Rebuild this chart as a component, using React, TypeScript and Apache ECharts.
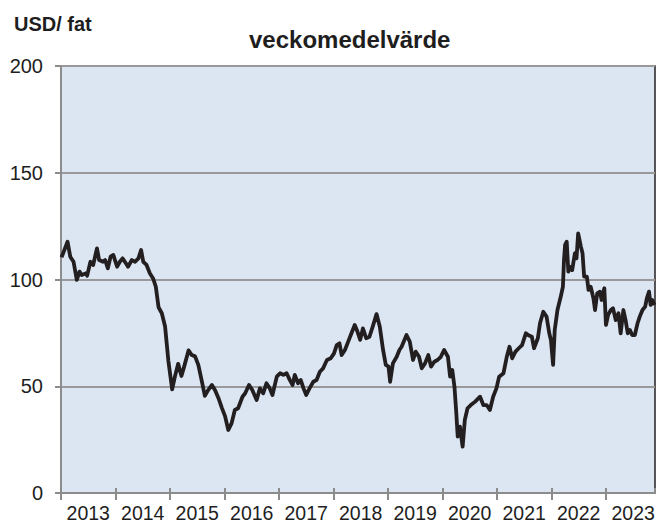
import React, { useEffect, useRef } from "react";
import * as echarts from "echarts";

const weekDates: number[] = [
  2013.01, 2013.12, 2013.17, 2013.23, 2013.29, 2013.34, 2013.38, 2013.46, 2013.48, 2013.54,
  2013.59, 2013.66, 2013.7, 2013.77, 2013.81, 2013.86, 2013.91, 2013.96, 2013.99, 2014.03,
  2014.08, 2014.13, 2014.19, 2014.23, 2014.3, 2014.36, 2014.42, 2014.47, 2014.51, 2014.57,
  2014.63, 2014.69, 2014.74, 2014.79, 2014.85, 2014.91, 2014.97, 2015.04, 2015.09, 2015.15,
  2015.21, 2015.26, 2015.34, 2015.4, 2015.46, 2015.52, 2015.58, 2015.64, 2015.7, 2015.77,
  2015.83, 2015.89, 2015.95, 2016.01, 2016.07, 2016.13, 2016.19, 2016.25, 2016.33, 2016.38,
  2016.45, 2016.51, 2016.59, 2016.65, 2016.71, 2016.77, 2016.83, 2016.88, 2016.96, 2017.02,
  2017.08, 2017.14, 2017.2, 2017.25, 2017.29, 2017.35, 2017.4, 2017.45, 2017.5, 2017.56,
  2017.63, 2017.69, 2017.75, 2017.81, 2017.88, 2017.95, 2018.01, 2018.06, 2018.11, 2018.15,
  2018.21, 2018.27, 2018.33, 2018.39, 2018.44, 2018.49, 2018.54, 2018.6, 2018.66, 2018.72,
  2018.79, 2018.85, 2018.91, 2018.96, 2019.01, 2019.04, 2019.09, 2019.16, 2019.21, 2019.25,
  2019.34, 2019.4, 2019.46, 2019.51, 2019.57, 2019.62, 2019.68, 2019.74, 2019.79, 2019.85,
  2019.91, 2019.97, 2020.03, 2020.1, 2020.14, 2020.18, 2020.22, 2020.25, 2020.28, 2020.32,
  2020.37, 2020.41, 2020.46, 2020.52, 2020.6, 2020.69, 2020.75, 2020.81, 2020.87, 2020.93,
  2020.99, 2021.04, 2021.12, 2021.18, 2021.23, 2021.28, 2021.34, 2021.4, 2021.46, 2021.53,
  2021.57, 2021.64, 2021.68, 2021.75, 2021.79, 2021.85, 2021.91, 2021.96, 2021.99, 2022.03,
  2022.06, 2022.11, 2022.17, 2022.21, 2022.23, 2022.25, 2022.28, 2022.31, 2022.34, 2022.38,
  2022.43, 2022.46, 2022.49, 2022.54, 2022.57, 2022.6, 2022.65, 2022.68, 2022.72, 2022.77,
  2022.8, 2022.84, 2022.89, 2022.92, 2022.97, 2023.0, 2023.04, 2023.09, 2023.13, 2023.18,
  2023.23, 2023.27, 2023.32, 2023.36, 2023.4, 2023.44, 2023.48, 2023.53, 2023.58, 2023.62,
  2023.67, 2023.72, 2023.75, 2023.79, 2023.82, 2023.85, 2023.89,
];

// weekly average price, USD per barrel
const prices: number[] = [
  110.4, 117.7, 110.7, 108.3, 99.8, 103.7, 102.1, 102.9, 101.8, 108.3,
  106.8, 114.6, 109.1, 108.3, 109.1, 105.2, 110.7, 111.5, 109.1, 106,
  108.3, 109.9, 107.6, 106, 109.1, 108.3, 109.9, 113.8, 108.3, 106.8,
  102.9, 100.5, 96.6, 87, 84.2, 78, 62, 48.5, 54.5, 60.5,
  54.8, 59.2, 66.8, 64.6, 64, 60, 52.9, 45.5, 48.2, 50.6,
  48, 44.4, 40, 36, 29.5, 32.6, 38.9, 39.7, 45.1, 46.7,
  50.6, 48.2, 43.6, 49, 46.7, 51.4, 49, 45.9, 54.5, 56.1,
  55.3, 56.1, 52.9, 50.6, 55.3, 51.4, 52.9, 49, 45.9, 49,
  52.1, 52.9, 56.8, 58.4, 62.3, 63.1, 65.4, 69.3, 70.1, 64.6,
  67, 70.9, 74.8, 78.7, 75.6, 71.7, 77.1, 72.5, 73.2, 77.9,
  83.8, 77.9, 67, 60, 59.2, 52.1, 60.7, 63.8, 67, 68.5,
  74, 70.9, 62.3, 66.2, 63.8, 58.4, 60.7, 64.6, 59.2, 61.5,
  62.3, 63.8, 67, 63.8, 54.5, 57.6, 49.8, 38.9, 26.4, 31.1,
  21.7, 34.2, 39.7, 41.2, 42.8, 45.1, 41.2, 41.2, 38.9, 45.1,
  49, 54.5, 56.1, 63.8, 68.5, 63.1, 66.2, 67.8, 69.3, 74.8,
  74, 73.2, 67.8, 72.5, 79.5, 84.9, 82.6, 74.8, 71.7, 60,
  76.3, 85.7, 91.9, 96.6, 109.1, 116.2, 117.7, 103.7, 106, 104.4,
  112.3, 109.9, 121.6, 115.4, 112.3, 101.3, 101.3, 95.1, 96.6, 91.2,
  85.7, 93.5, 94.3, 90.4, 95.9, 78.7, 83.4, 85.7, 86.5, 81,
  84.2, 74.8, 85.7, 81, 74.8, 76.3, 74, 74, 79.5, 82.6,
  85.7, 87.3, 91.2, 94.3, 88.1, 90.4, 88.1,
];

const yTicks = { min: 0, max: 200, step: 50 };
const xRange = { min: 2013, max: 2023.9 };

const FONT = "'Liberation Sans', Arial, sans-serif";

export default function App() {
  const ref = useRef<HTMLDivElement>(null);

  useEffect(() => {
    document.body.style.margin = "0";
    if (!ref.current) return;
    const chart = echarts.init(ref.current, undefined, { renderer: "svg" });
    const data = weekDates.map((d, i) => [d, prices[i]]);
    chart.setOption({
      animation: false,
      backgroundColor: "#ffffff",
      textStyle: { fontFamily: FONT },
      title: [
        {
          text: "veckomedelvärde",
          left: 244,
          top: 22,
          textStyle: { fontSize: 24, fontWeight: "bold", color: "#1e1e1e", fontFamily: FONT },
        },
        {
          text: "USD/ fat",
          left: 9,
          top: 9,
          textStyle: { fontSize: 20, fontWeight: "bold", color: "#1e1e1e", fontFamily: FONT },
        },
      ],
      grid: {
        left: 61,
        top: 66,
        width: 594,
        height: 427,
        show: true,
        backgroundColor: "#dce6f2",
        borderColor: "#231f20",
        borderWidth: 1.5,
      },
      xAxis: [
        {
          type: "value",
          min: xRange.min,
          max: xRange.max,
          interval: 1,
          axisLine: { show: true, lineStyle: { color: "#8c8c8c", width: 2 } },
          axisTick: { show: true, length: 7, lineStyle: { color: "#8c8c8c", width: 2 } },
          splitLine: { show: false },
          axisLabel: {
            show: true,
            showMaxLabel: false,
            fontSize: 19.5,
            color: "#1e1e1e",
            fontFamily: FONT,
            margin: 10,
            padding: [0, 0, 0, 54.5],
            formatter: (v: number) => (Number.isInteger(v) ? String(v) : ""),
          },
        },
        {
          type: "value",
          min: xRange.min,
          max: xRange.max,
          interval: 1,
          position: "bottom",
          axisLine: { show: false },
          axisTick: { show: true, inside: true, length: 5, lineStyle: { color: "#8c8c8c", width: 2 } },
          splitLine: { show: false },
          axisLabel: { show: false },
        },
      ],
      yAxis: {
        type: "value",
        min: yTicks.min,
        max: yTicks.max,
        interval: yTicks.step,
        axisLine: { show: true, lineStyle: { color: "#8c8c8c", width: 2 } },
        axisTick: { show: true, length: 6, lineStyle: { color: "#8c8c8c", width: 2 } },
        splitLine: { show: true, lineStyle: { color: "#999999", width: 2 } },
        axisLabel: { fontSize: 20, color: "#1e1e1e", fontFamily: FONT, margin: 18 },
      },
      series: [
        {
          type: "line",
          data,
          symbol: "none",
          lineStyle: { color: "#231f20", width: 3.8, join: "round" },
          z: 5,
        },
      ],
    });
    return () => chart.dispose();
  }, []);

  return <div ref={ref} style={{ width: 659, height: 527 }} />;
}
